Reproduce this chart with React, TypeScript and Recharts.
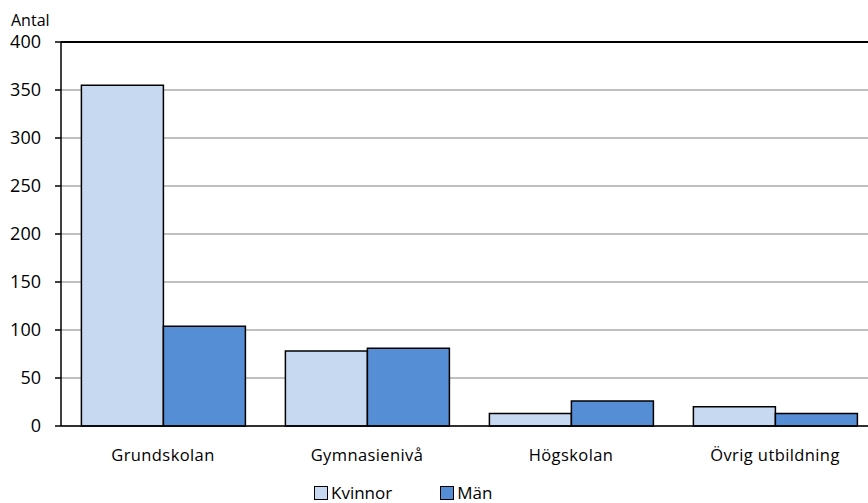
import { BarChart, Bar, XAxis, YAxis, CartesianGrid, ReferenceLine } from "recharts";

const categories = ["Grundskolan", "Gymnasienivå", "Högskolan", "Övrig utbildning"];
const kvinnor = [355, 78, 13, 20];
const man = [104, 81, 26, 13];
const yTicks = [0, 50, 100, 150, 200, 250, 300, 350, 400];

const data = categories.map((c, i) => ({ name: c, Kvinnor: kvinnor[i], "Män": man[i] }));

const font = "'Open Sans', sans-serif";

function LegendBox() {
  const items = [
    { label: "Kvinnor", color: "#C6D9F1" },
    { label: "Män", color: "#558ED5" },
  ];
  return (
    <div style={{ position: "absolute", left: 314, top: 482, display: "flex", gap: 48, fontFamily: font, fontSize: 17, color: "#000", lineHeight: "22px" }}>
      {items.map((it) => (
        <div key={it.label} style={{ display: "flex", alignItems: "center" }}>
          <span style={{ display: "inline-block", width: 12, height: 12, background: it.color, border: "1px solid #000", marginRight: 3 }} />
          <span>{it.label}</span>
        </div>
      ))}
    </div>
  );
}

export default function App() {
  return (
    <div style={{ position: "absolute", left: 0, top: 0, width: 868, height: 503, overflow: "hidden", background: "#fff" }}>
      <div style={{ position: "absolute", left: 11, top: 12, fontFamily: font, fontSize: 16, lineHeight: "16px", color: "#000" }}>Antal</div>
      <BarChart
        width={880}
        height={503}
        data={data}
        margin={{ top: 42, right: 3, left: 0, bottom: 37 }}
        barCategoryGap="10%"
        barGap={0}
      >
        <CartesianGrid vertical={false} stroke="#808080" strokeWidth={1} />
        <XAxis
          dataKey="name"
          tickLine={false}
          axisLine={{ stroke: "#000", strokeWidth: 1.5 }}
          height={40}
          tick={{ fontFamily: font, fontSize: 16.5, fill: "#000", letterSpacing: 0.4 }}
          tickMargin={17}
        />
        <YAxis
          domain={[0, 400]}
          ticks={yTicks}
          width={61}
          tickSize={6}
          tickLine={{ stroke: "#000", strokeWidth: 1.5 }}
          axisLine={{ stroke: "#000", strokeWidth: 1.5 }}
          tick={{ fontFamily: font, fontSize: 18, fill: "#000" }}
          tickMargin={14}
          interval={0}
        />
        <ReferenceLine y={400} stroke="#000" strokeWidth={2} />
        <Bar dataKey="Kvinnor" fill="#C6D9F1" stroke="#000" strokeWidth={1.5} isAnimationActive={false} />
        <Bar dataKey="Män" fill="#558ED5" stroke="#000" strokeWidth={1.5} isAnimationActive={false} />
      </BarChart>
      <LegendBox />
    </div>
  );
}
